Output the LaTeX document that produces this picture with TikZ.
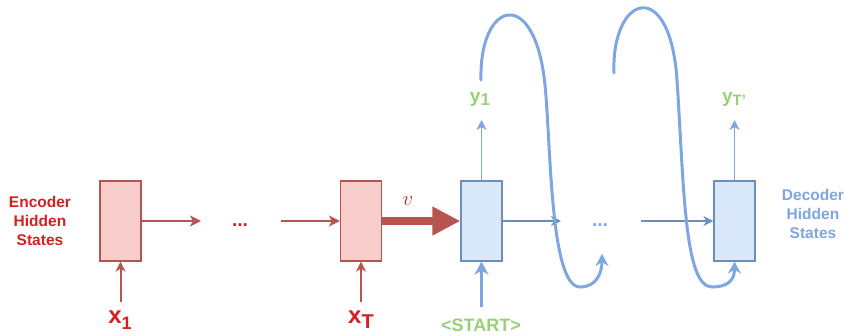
\documentclass[tikz,border=0pt]{standalone}
\usepackage{fontspec}
\setmainfont{Liberation Sans}
\usetikzlibrary{arrows.meta}
\definecolor{redfill}{HTML}{F8CECC}
\definecolor{redline}{HTML}{B85450}
\definecolor{bluefill}{HTML}{DAE8FC}
\definecolor{blueline}{HTML}{6C8EBF}
\definecolor{bluearrow}{HTML}{7EA6E0}
\definecolor{textred}{HTML}{D42020}
\definecolor{textgreen}{HTML}{97D077}
\tikzset{
  encbox/.style={draw=redline, fill=redfill, line width=1.2pt, minimum width=41pt, minimum height=80pt, inner sep=0pt},
  decbox/.style={draw=blueline, fill=bluefill, line width=1.2pt, minimum width=41pt, minimum height=80pt, inner sep=0pt},
  redarrow/.style={draw=redline, line width=1.6pt, -{Stealth[length=11pt,width=11pt,inset=3pt]}},
  redin/.style={draw=redline, line width=2pt, -{Stealth[length=10pt,width=10pt,inset=3pt]}},
  bigarrow/.style={draw=redline, line width=8pt, -{Triangle[length=28pt,width=27pt]}},
  decarrow/.style={draw=blueline, line width=1.5pt, -{Stealth[length=10pt,width=10pt,inset=3pt]}},
  outarrow/.style={draw=bluearrow, line width=1.6pt, -{Stealth[length=10pt,width=10pt,inset=3pt]}},
  startarrow/.style={draw=bluearrow, line width=3pt, -{Stealth[length=13pt,width=14pt,inset=4pt]}},
  loop/.style={draw=bluearrow, line width=3pt, line cap=round, -{Stealth[length=12pt,width=13pt,inset=4pt]}},
  sidetext/.style={align=center, font=\bfseries\fontsize{15.5}{19}\selectfont},
  dots/.style={font=\bfseries\fontsize{19}{19}\selectfont, inner sep=0pt},
  inlabel/.style={anchor=base, inner sep=0pt, text=textred, font=\bfseries\fontsize{24}{24}\selectfont},
  outlabel/.style={anchor=base, inner sep=0pt, text=textgreen, font=\bfseries\fontsize{19}{19}\selectfont}
}
\begin{document}
\begin{tikzpicture}[x=1pt,y=-1pt]
\useasboundingbox (0,0) rectangle (846,335);

% boxes
\node[encbox] (e1) at (120.5,221) {};
\node[encbox] (eT) at (361,221) {};
\node[decbox] (d1) at (481.5,221) {};
\node[decbox] (dT) at (734.5,221) {};

% side texts
\node[sidetext, text=textred] (enc) at (40,221) {Encoder\\Hidden\\States};
\node[sidetext, text=bluearrow] (dec) at (813,214) {Decoder\\Hidden\\States};

% dots
\node[dots, text=textred] (edots) at (240,225.5) {...};
\node[dots, text=bluearrow] (ddots) at (600,225.5) {...};

% encoder horizontal
\coordinate (ea) at (201,221);
\coordinate (eb) at (281,221);
\draw[redarrow] (e1.east) -- (ea);
\draw[redarrow] (eb) -- (eT.west);

% context vector
\draw[bigarrow] (eT.east) -- (d1.west);
\node[text=textred, font=\fontsize{20}{20}\selectfont, inner sep=0pt] (v) at (408,201) {$v$};

% encoder inputs
\coordinate (x1a) at (120.5,302);
\coordinate (xTa) at (361,302);
\draw[redin] (x1a) -- (e1.south);
\draw[redin] (xTa) -- (eT.south);
\node[inlabel] (x1) at (120,323) {x\raisebox{-6pt}{\fontsize{18}{18}\selectfont 1}};
\node[inlabel] (xT) at (361,323) {x\raisebox{-5pt}{\fontsize{20}{20}\selectfont T}};

% decoder start input
\coordinate (sa) at (481.5,307);
\draw[startarrow] (sa) -- (d1.south);
\node[outlabel, font=\bfseries\fontsize{18}{18}\selectfont] (start) at (481,331) {<START>};

% decoder horizontal
\coordinate (da) at (561,221);
\coordinate (db) at (641,221);
\draw[decarrow] (d1.east) -- (da);
\draw[decarrow] (db) -- (dT.west);

% outputs
\coordinate (o1) at (481.5,120);
\coordinate (oT) at (734.5,120);
\draw[outarrow] (d1.north) -- (o1);
\draw[outarrow] (dT.north) -- (oT);
\node[outlabel] (y1) at (480,102) {y\raisebox{-3pt}{\fontsize{17}{17}\selectfont 1}};
\node[outlabel] (yT) at (734,102) {y\raisebox{-3pt}{\fontsize{15}{15}\selectfont T'}};

% feedback loops
\coordinate (l1s) at (481,80);
\coordinate (l1e) at (602,254);
\coordinate (l2s) at (614,73);
\draw[loop] (l1s) .. controls (479,0) and (535,-15) .. (545,85)
  .. controls (551,145) and (550,287) .. (580,287)
  .. controls (597,287) and (602,272) .. (l1e);
\draw[loop] (l2s) .. controls (611,-5) and (670,-25) .. (677,80)
  .. controls (684,185) and (684,287) .. (712,287)
  .. controls (728,287) and (734.5,280) .. (dT.south);
\end{tikzpicture}
\end{document}
